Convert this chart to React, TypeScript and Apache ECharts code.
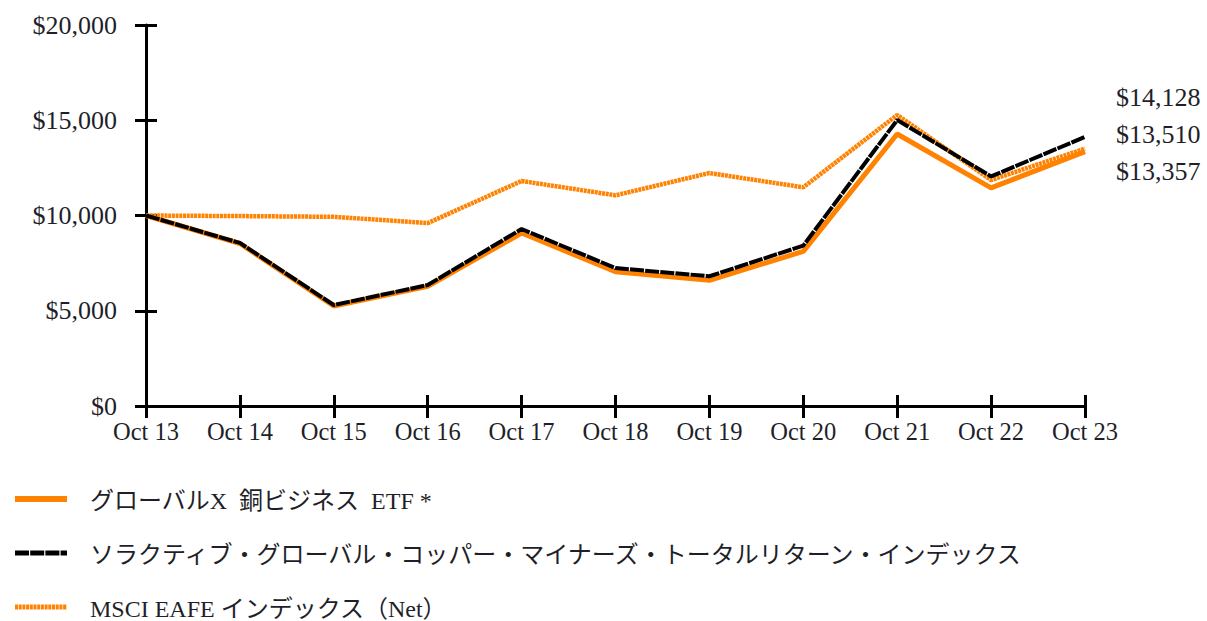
import React, { useEffect, useRef } from "react";
import * as echarts from "echarts";

const categories = ["Oct 13", "Oct 14", "Oct 15", "Oct 16", "Oct 17", "Oct 18", "Oct 19", "Oct 20", "Oct 21", "Oct 22", "Oct 23"];
const etfName = "グローバルX  銅ビジネス  ETF *";
const indexName = "ソラクティブ・グローバル・コッパー・マイナーズ・トータルリターン・インデックス";
const msciName = "MSCI EAFE インデックス（Net）";
const etfValues = [10000, 8530, 5250, 6280, 9080, 7050, 6600, 8120, 14280, 11450, 13357];
const indexValues = [10000, 8560, 5300, 6350, 9290, 7240, 6810, 8420, 15010, 12050, 14128];
const msciValues = [10000, 9970, 9930, 9600, 11810, 11060, 12230, 11480, 15276, 11860, 13510];
const yMin = 0;
const yMax = 20000;
const yInterval = 5000;

const ORANGE = "#FF8200";
const TEXT = "#1f1f2a";
const SERIF = "'Liberation Serif', 'Times New Roman', 'Noto Sans CJK JP', serif";

const fmt = (v: number) => "$" + Math.round(v).toLocaleString("en-US");

export default function App() {
  const ref = useRef<HTMLDivElement>(null);
  useEffect(() => {
    if (!ref.current) return;
    const chart = echarts.init(ref.current, null, { renderer: "svg" });
    const endLabel = (dy: number) => ({
      show: true,
      formatter: (p: any) => fmt(p.value),
      color: TEXT,
      fontFamily: SERIF,
      fontSize: 26,
      distance: 0,
      offset: [31, dy],
    });
    const legendRows = [
      { name: etfName, y: 499, color: ORANGE, width: 6, dash: null as any },
      { name: indexName, y: 553, color: "#000", width: 5, dash: [14, 1.2] as any },
      { name: msciName, y: 607, color: ORANGE, width: 5, dash: [3, 0.7] as any },
    ];
    const graphic: any[] = [];
    legendRows.forEach((r) => {
      graphic.push({
        type: "line",
        shape: { x1: 15, y1: r.y, x2: 67, y2: r.y },
        style: { stroke: r.color, lineWidth: r.width, lineDash: r.dash },
      });
      graphic.push({
        type: "text",
        x: 90,
        y: r.y + 2,
        style: { text: r.name, fill: TEXT, font: `24px ${SERIF}`, verticalAlign: "middle" },
      });
    });
    chart.setOption({
      animation: false,
      grid: { left: 146, right: 122, top: 25, bottom: 215 },
      xAxis: [
        {
          type: "category",
          data: categories,
          boundaryGap: false,
          position: "bottom",
          axisLine: { show: true, lineStyle: { color: "#000", width: 3 } },
          axisTick: { show: true, inside: false, length: 12, lineStyle: { color: "#000", width: 3 } },
          axisLabel: { color: TEXT, fontFamily: SERIF, fontSize: 24.5, margin: 13, interval: 0 },
          splitLine: { show: false },
        },
        {
          type: "category",
          data: categories,
          boundaryGap: false,
          position: "bottom",
          offset: 0,
          axisLine: { show: false },
          axisTick: { show: true, inside: true, length: 11, lineStyle: { color: "#000", width: 3 } },
          axisLabel: { show: false },
          splitLine: { show: false },
        },
      ],
      yAxis: [
        {
          type: "value",
          min: yMin,
          max: yMax,
          interval: yInterval,
          position: "left",
          axisLine: { show: true, lineStyle: { color: "#000", width: 3 } },
          axisTick: { show: true, inside: false, length: 11, lineStyle: { color: "#000", width: 3 } },
          axisLabel: { color: TEXT, fontFamily: SERIF, fontSize: 26, margin: 29, formatter: (v: number) => fmt(v) },
          splitLine: { show: false },
        },
        {
          type: "value",
          min: yMin,
          max: yMax,
          interval: yInterval,
          position: "left",
          offset: 0,
          axisLine: { show: false },
          axisTick: { show: true, inside: true, length: 11, lineStyle: { color: "#000", width: 3 } },
          axisLabel: { show: false },
          splitLine: { show: false },
        },
      ],
      series: [
        {
          name: msciName,
          type: "line",
          data: msciValues,
          symbol: "none",
          lineStyle: { color: ORANGE, width: 4.5, type: [3, 0.7] },
          endLabel: endLabel(-14),
          z: 2,
        },
        {
          name: etfName,
          type: "line",
          data: etfValues,
          symbol: "none",
          lineStyle: { color: ORANGE, width: 5 },
          endLabel: endLabel(20),
          z: 3,
        },
        {
          name: indexName,
          type: "line",
          data: indexValues,
          symbol: "none",
          lineStyle: { color: "#000", width: 4, type: [14, 1.2] },
          endLabel: endLabel(-39),
          z: 4,
        },
      ],
      graphic,
    });
    return () => chart.dispose();
  }, []);
  return <div ref={ref} style={{ position: "fixed", left: 0, top: 0, width: 1207, height: 621, background: "#fff" }} />;
}
